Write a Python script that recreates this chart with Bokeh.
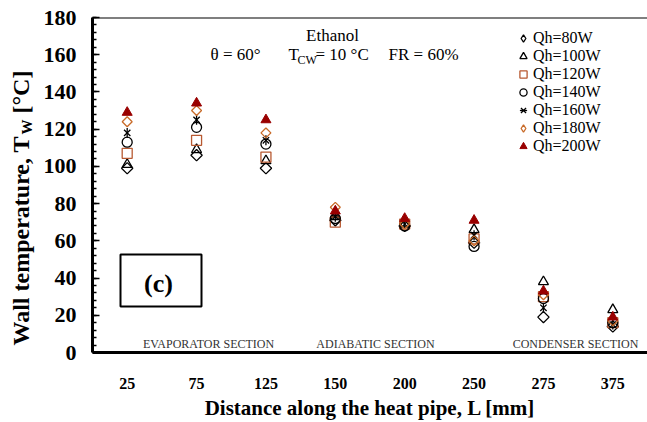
import math
from bokeh.plotting import figure
from bokeh.layouts import row
from bokeh.models import (FactorRange, Range1d, SingleIntervalTicker, Legend,
                          LegendItem, Label, BoxAnnotation, Span)
from bokeh.embed import file_html
from bokeh.resources import INLINE

# ---------------- data ----------------
positions = ["25", "75", "125", "150", "200", "250", "275", "375"]
qh_80 = [99, 106, 99, 71, 68, 59, 19, 14]
qh_100 = [101, 109, 103, 73, 69, 66, 38, 23]
qh_120 = [107, 114, 105, 70, 69, 61, 30, 16]
qh_140 = [113, 121, 112, 72, 68, 57, 29, 16]
qh_160 = [118, 125, 114, 73, 69, 63, 24, 15]
qh_180 = [124, 130, 118, 78, 69, 60, 31, 17]
qh_200 = [129, 134, 125, 76, 72, 71, 33, 19]
series_labels = ["Qh=80W", "Qh=100W", "Qh=120W", "Qh=140W", "Qh=160W", "Qh=180W", "Qh=200W"]
y_ticks_interval = 20

SERIF = "Liberation Serif"
TITLE_W = 40

p = figure(width=647 - TITLE_W, height=422, x_range=FactorRange(*positions, range_padding=0),
           y_range=Range1d(0, 180), output_backend="svg", toolbar_location=None,
           min_border_left=92 - TITLE_W, min_border_right=0, min_border_top=17,
           min_border_bottom=70)
p.outline_line_color = None
p.xgrid.grid_line_color = None
p.ygrid.grid_line_color = None
p.background_fill_color = "white"
p.border_fill_color = "white"

# y axis
p.yaxis.ticker = SingleIntervalTicker(interval=y_ticks_interval, num_minor_ticks=5)
p.yaxis.axis_line_width = 3
p.yaxis.axis_line_color = "black"
p.yaxis.major_tick_in = 7
p.yaxis.major_tick_out = 0
p.yaxis.minor_tick_in = 4
p.yaxis.minor_tick_out = 0
p.yaxis.major_tick_line_width = 1.5
p.yaxis.minor_tick_line_width = 1.5
p.yaxis.major_label_text_font = SERIF
p.yaxis.major_label_text_font_style = "bold"
p.yaxis.major_label_text_font_size = "22px"
p.yaxis.major_label_text_color = "black"
p.yaxis.major_label_standoff = 16
p.yaxis.axis_label = None

# x axis
p.xaxis.axis_line_width = 3
p.xaxis.axis_line_color = "black"
p.xaxis.major_tick_line_color = None
p.xaxis.minor_tick_line_color = None
p.xaxis.major_label_text_font = SERIF
p.xaxis.major_label_text_font_style = "bold"
p.xaxis.major_label_text_font_size = "16px"
p.xaxis.major_label_text_color = "black"
p.xaxis.major_label_standoff = 19
p.xaxis.axis_label = "Distance along the heat pipe, L [mm]"
p.xaxis.axis_label_text_font = SERIF
p.xaxis.axis_label_text_font_style = "bold"
p.xaxis.axis_label_text_font_size = "21px"
p.xaxis.axis_label_text_color = "black"
p.xaxis.axis_label_standoff = 4

# top border line
p.add_layout(Span(location=180, dimension="width", line_color="black", line_width=2))

# ---------------- markers ----------------
lw = 1.3
BROWN = "#B85A32"
ORANGE = "#C86A28"
DARKRED = "#990000"
r80 = p.scatter(positions, qh_80, marker="square", angle=math.pi / 4, size=8,
                line_color="black", fill_color=None, line_width=lw)
r100 = p.scatter(positions, qh_100, marker="triangle", size=10,
                 line_color="black", fill_color=None, line_width=lw)
r120 = p.scatter(positions, qh_120, marker="square", size=10,
                 line_color=BROWN, fill_color=None, line_width=lw)
r140 = p.scatter(positions, qh_140, marker="circle", size=10,
                 line_color="black", fill_color=None, line_width=lw)
r160a = p.scatter(positions, qh_160, marker="x", size=9,
                  line_color="black", line_width=lw)
r160b = p.scatter(positions, qh_160, marker="dash", angle=math.pi / 2, size=10,
                  line_color="black", line_width=lw)
r180 = p.scatter(positions, qh_180, marker="square", angle=math.pi / 4, size=7,
                 line_color=ORANGE, fill_color=None, line_width=lw)
r200 = p.scatter(positions, qh_200, marker="triangle", size=10,
                 line_color=DARKRED, fill_color=DARKRED, line_width=1)

# legend-only diamond glyphs (the legend does not rotate markers); no visible point
nan = float("nan")
leg80 = p.scatter([positions[0]], [nan], marker="diamond", size=10, line_color="black",
                  fill_color=None, line_width=lw)
leg180 = p.scatter([positions[0]], [nan], marker="diamond", size=10, line_color=ORANGE,
                   fill_color=None, line_width=lw)

renderers = [[leg80], [r100], [r120], [r140], [r160a, r160b], [leg180], [r200]]
legend = Legend(items=[LegendItem(label=lab, renderers=rs)
                       for lab, rs in zip(series_labels, renderers)],
                location=(421, 197), orientation="vertical",
                border_line_color=None, background_fill_alpha=0,
                padding=0, margin=0, spacing=0,
                glyph_width=20, glyph_height=18, label_height=18,
                label_standoff=0,
                label_text_font=SERIF, label_text_font_size="16px",
                label_text_color="black")
p.add_layout(legend)


# ---------------- annotations ----------------
def lab(fig, text, x, y, size, align="left", style="normal", color="black", angle=0, font=SERIF):
    fig.add_layout(Label(x=x, y=y, x_units="screen", y_units="screen", text=text,
                         text_font=font, text_font_size=size, text_font_style=style,
                         text_color=color, text_align=align, text_baseline="middle",
                         angle=angle))


# header text
lab(p, "Ethanol", 240, 317, "17px", align="center")
lab(p, "\u03b8 = 60\u00b0", 118, 298, "17px")
lab(p, "T", 196, 298, "17px")
lab(p, "CW", 205, 293, "12px")
lab(p, "= 10 \u00b0C", 223, 298, "17px")
lab(p, "FR = 60%", 296, 298, "17px")

# (c) box
p.add_layout(BoxAnnotation(left=28, right=109, top=98, bottom=46,
                           left_units="screen", right_units="screen",
                           top_units="screen", bottom_units="screen",
                           fill_color=None, fill_alpha=0, line_color="black",
                           line_alpha=1, line_width=2))
lab(p, "(c)", 66, 69, "26px", align="center", style="bold")

# section labels
lab(p, "EVAPORATOR SECTION", 116, 9, "12px", align="center", color="#333333")
lab(p, "ADIABATIC SECTION", 283, 9, "12px", align="center", color="#333333")
lab(p, "CONDENSER SECTION", 483, 9, "12px", align="center", color="#333333")

# ---------------- y-axis title (separate narrow panel, frame aligned with plot) ----------------
t = figure(width=TITLE_W, height=422, x_range=Range1d(0, 1), y_range=Range1d(0, 1),
           output_backend="svg", toolbar_location=None, min_border=0,
           x_axis_location=None, y_axis_location=None)
t.outline_line_color = None
t.xgrid.grid_line_color = None
t.ygrid.grid_line_color = None
lab(t, "Wall temperature, T", 20, 7, "24px", style="bold", angle=math.pi / 2)
lab(t, "W", 26, 218, "15px", style="bold", angle=math.pi / 2)
lab(t, "[\u00b0C]", 20, 239, "24px", style="bold", angle=math.pi / 2)

layout = row(t, p, spacing=0)
open("out.html", "w").write(file_html(layout, INLINE))
